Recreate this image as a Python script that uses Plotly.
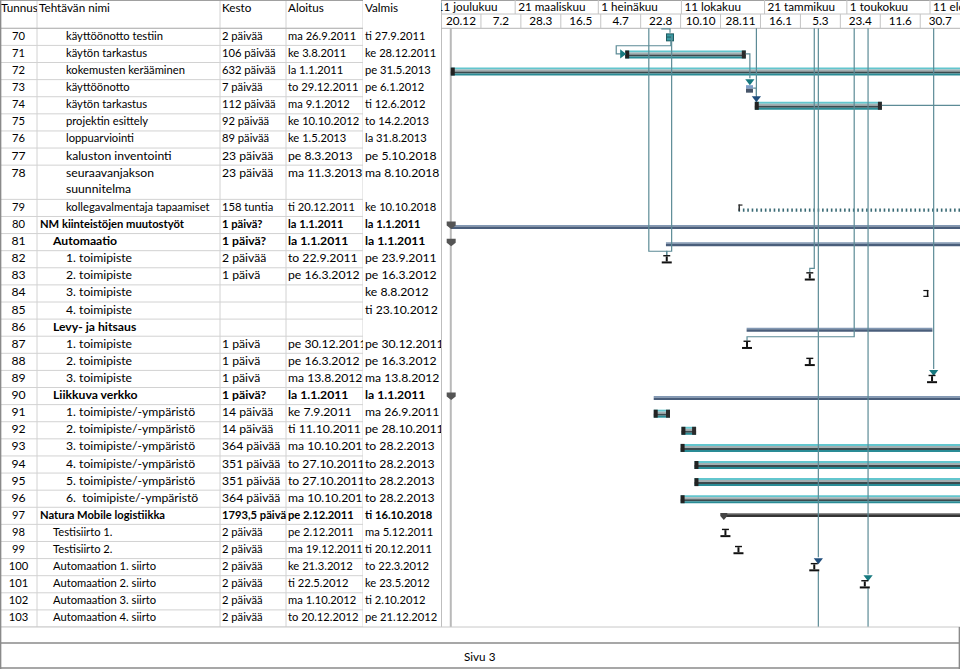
import plotly.graph_objects as go
from datetime import datetime, timedelta

# ---------------- data ----------------
task_ids = list(range(70, 104))
task_names = [
    "käyttöönotto testiin", "käytön tarkastus", "kokemusten kerääminen", "käyttöönotto",
    "käytön tarkastus", "projektin esittely", "loppuarviointi", "kaluston inventointi",
    "seuraavanjakson\nsuunnitelma", "kollegavalmentaja tapaamiset",
    "NM kiinteistöjen muutostyöt", "Automaatio", "1. toimipiste", "2. toimipiste",
    "3. toimipiste", "4. toimipiste", "Levy- ja hitsaus", "1. toimipiste", "2. toimipiste",
    "3. toimipiste", "Liikkuva verkko", "1. toimipiste/-ympäristö", "2. toimipiste/-ympäristö",
    "3. toimipiste/-ympäristö", "4. toimipiste/-ympäristö", "5. toimipiste/-ympäristö",
    "6.  toimipiste/-ympäristö", "Natura Mobile logistiikka", "Testisiirto 1.", "Testisiirto 2.",
    "Automaation 1. siirto", "Automaation 2. siirto", "Automaation 3. siirto", "Automaation 4. siirto",
]
outline_levels = [3] * 10 + [1, 2, 3, 3, 3, 3, 2, 3, 3, 3, 2, 3, 3, 3, 3, 3, 3, 1, 2, 2, 2, 2, 2, 2]
durations = [
    "2 päivää", "106 päivää", "632 päivää", "7 päivää", "112 päivää", "92 päivää", "89 päivää",
    "23 päivää", "23 päivää", "158 tuntia", "1 päivä?", "1 päivä?", "2 päivää", "1 päivä", "", "",
    "", "1 päivä", "1 päivä", "1 päivä", "1 päivä?", "14 päivää", "14 päivää", "364 päivää",
    "351 päivää", "351 päivää", "364 päivää", "1793,5 päivää", "2 päivää", "2 päivää", "2 päivää",
    "2 päivää", "2 päivää", "2 päivää",
]
starts = [
    "ma 26.9.2011", "ke 3.8.2011", "la 1.1.2011", "to 29.12.2011", "ma 9.1.2012", "ke 10.10.2012",
    "ke 1.5.2013", "pe 8.3.2013", "ma 11.3.2013", "ti 20.12.2011", "la 1.1.2011", "la 1.1.2011",
    "to 22.9.2011", "pe 16.3.2012", "", "", "", "pe 30.12.2011", "pe 16.3.2012", "ma 13.8.2012",
    "la 1.1.2011", "ke 7.9.2011", "ti 11.10.2011", "ma 10.10.2011", "to 27.10.2011", "to 27.10.2011",
    "ma 10.10.2011", "pe 2.12.2011", "pe 2.12.2011", "ma 19.12.2011", "ke 21.3.2012", "ti 22.5.2012",
    "ma 1.10.2012", "to 20.12.2012",
]
finishes = [
    "ti 27.9.2011", "ke 28.12.2011", "pe 31.5.2013", "pe 6.1.2012", "ti 12.6.2012", "to 14.2.2013",
    "la 31.8.2013", "pe 5.10.2018", "ma 8.10.2018", "ke 10.10.2018", "la 1.1.2011", "la 1.1.2011",
    "pe 23.9.2011", "pe 16.3.2012", "ke 8.8.2012", "ti 23.10.2012", "", "pe 30.12.2011",
    "pe 16.3.2012", "ma 13.8.2012", "la 1.1.2011", "ma 26.9.2011", "pe 28.10.2011", "to 28.2.2013",
    "to 28.2.2013", "to 28.2.2013", "to 28.2.2013", "ti 16.10.2018", "ma 5.12.2011", "ti 20.12.2011",
    "to 22.3.2012", "ke 23.5.2012", "ti 2.10.2012", "pe 21.12.2012",
]
# how each task is drawn in the gantt part
gantt_kinds = [
    "box_teal", "bar", "bar", "box_blue", "bar", "bar", "bar", "bar", "bar", "recurring",
    "summary", "summary", "manual", "manual", "finish_only", "finish_only", "summary", "manual",
    "manual", "manual", "summary", "bar", "bar", "bar", "bar", "bar", "bar", "summary_dark",
    "manual", "manual", "manual", "manual", "manual", "manual",
]
large_font_rows = [77, 78] + list(range(81, 97))

# dependency links: (from task | "top", to task | "bottom" | "right", date of vertical run, arrow colour)
links = [
    ("top", 70, "2011-09-17", None),
    (70, 71, "2011-07-23", "teal"),
    (70, 82, "2011-09-29", None),
    ("top", 82, "2011-09-01", None),
    (71, 73, "2012-01-03", "teal"),
    (73, 74, "2012-01-11", "navy"),
    ("top", 74, "2012-01-11", None),
    (74, "right", None, None),
    ("top", 83, "2012-03-22", None),
    ("top", 100, "2012-03-27", "navy"),
    (100, "bottom", "2012-03-27", None),
    ("top", 87, "2012-05-10", None),
    ("top", 101, "2012-05-27", "teal"),
    (101, "bottom", "2012-05-27", None),
    ("top", 89, "2012-08-15 12:00", "teal"),
]

project_start = "2011-01-01"

upper_tier_dates = ["2010-12-11", "2011-03-21", "2011-07-01", "2011-10-11", "2012-01-21",
                    "2012-05-01", "2012-08-11"]
upper_tier_labels = ["11 joulukuu", "21 maaliskuu", "1 heinäkuu", "11 lokakuu", "21 tammikuu",
                     "1 toukokuu", "11 elokuu"]
lower_tier_dates = ["2010-12-20", "2011-02-07", "2011-03-28", "2011-05-16", "2011-07-04",
                    "2011-08-22", "2011-10-10", "2011-11-28", "2012-01-16", "2012-03-05",
                    "2012-04-23", "2012-06-11", "2012-07-30"]
lower_tier_labels = ["20.12", "7.2", "28.3", "16.5", "4.7", "22.8", "10.10", "28.11", "16.1",
                     "5.3", "23.4", "11.6", "30.7"]
lower_tier_days = 49

column_titles = ["Tunnus", "Tehtävän nimi", "Kesto", "Aloitus", "Valmis"]
footer_text = "Sivu 3"

# ---------------- layout constants ----------------
W, H = 960, 669
HEADER_PX = 28.3
ROW_PX = 17.106
TABLE_RIGHT_PX = 441
COL_BOUNDS = [(0, 37), (37, 220), (220, 286), (286, 363), (363, 441)]
GANTT_LEFT_PX = 440
PX_PER_DAY = 0.815
ORIGIN_DATE = datetime(2010, 12, 20)
ORIGIN_PX = 441
FONT = "Lato"
FS_SMALL, FS_LARGE, FS_HEAD = 11.2, 12.2, 11.7
GRID = "#d2d2d2"
FRAME = "#8a8a8a"
LINK = "#5c8b96"
ARROW = {"teal": "#17797f", "navy": "#1f4d7c"}


def py(p):
    """absolute pixel row (from top) -> y units (rows)"""
    return (p - HEADER_PX) / ROW_PX


def pxd(p):
    return timedelta(days=p / PX_PER_DAY)


def dt(s):
    return datetime.fromisoformat(s)


def parse_fi(s):
    if not s:
        return None
    dd, mm, yy = s.split()[-1].split(".")
    return datetime(int(yy), int(mm), int(dd))


X0 = ORIGIN_DATE - pxd(ORIGIN_PX - GANTT_LEFT_PX)
X1 = ORIGIN_DATE + pxd(W - ORIGIN_PX)
Y_TOP = py(0)
Y_BOTTOM = py(H)
PXY = 1 / ROW_PX  # one pixel in y units

# row slots
slot_top = []
s = 0
for nm in task_names:
    slot_top.append(s)
    s += 2 if "\n" in nm else 1
TOTAL_SLOTS = s
idx = {tid: i for i, tid in enumerate(task_ids)}
row_y = [slot_top[i] + 0.5 for i in range(len(task_ids))]
start_dt = [parse_fi(v) for v in starts]
finish_dt = [parse_fi(v) for v in finishes]
is_summary = [i + 1 < len(outline_levels) and outline_levels[i + 1] > outline_levels[i]
              for i in range(len(outline_levels))]

fig = go.Figure()
shapes = []


def rect_px(xa, x0p, x1p, ya, top, bottom, color, layer="below"):
    shapes.append(dict(type="rect", xref="x", yref="y", xsizemode="pixel", ysizemode="pixel",
                       xanchor=xa, yanchor=ya, x0=x0p, x1=x1p, y0=-top, y1=-bottom,
                       fillcolor=color, line=dict(width=0), layer=layer))


def band(xa, xb, ya, top, bottom, color, layer="below"):
    shapes.append(dict(type="rect", xref="x", yref="y", ysizemode="pixel", yanchor=ya,
                       x0=xa, x1=xb, y0=-top, y1=-bottom, fillcolor=color,
                       line=dict(width=0), layer=layer))


def path_px(xa, ya, path, color, layer="above"):
    shapes.append(dict(type="path", xref="x", yref="y", xsizemode="pixel", ysizemode="pixel",
                       xanchor=xa, yanchor=ya, path=path, fillcolor=color,
                       line=dict(width=0), layer=layer))


def hline_paper(x0p, x1p, yv, color, width=1, layer="below"):
    shapes.append(dict(type="line", xref="paper", yref="y", x0=x0p / W, x1=x1p / W, y0=yv, y1=yv,
                       line=dict(color=color, width=width), layer=layer))


def vline_paper(xp, ya, yb, color, width=1, layer="below"):
    shapes.append(dict(type="line", xref="paper", yref="y", x0=xp / W, x1=xp / W, y0=ya, y1=yb,
                       line=dict(color=color, width=width), layer=layer))


# ---------------- table grid ----------------
for b in slot_top + [TOTAL_SLOTS]:
    hline_paper(0, TABLE_RIGHT_PX, b, GRID)
for c0, c1 in COL_BOUNDS[1:]:
    vline_paper(c0, Y_TOP, TOTAL_SLOTS, GRID)
vline_paper(TABLE_RIGHT_PX, Y_TOP, TOTAL_SLOTS, "#a8a8a8", 1.5)
hline_paper(0, W, 0, "#b4b4b4")
hline_paper(TABLE_RIGHT_PX, W, py(14), "#c4c4c4")
hline_paper(0, W, py(0.5), "#a0a0a0")

# project start line
shapes.append(dict(type="line", xref="x", yref="y", x0=project_start, x1=project_start,
                   y0=0, y1=TOTAL_SLOTS, line=dict(color="#b9b9b9", width=2), layer="below"))

# timescale separators
tx, ty = [], []
for d in upper_tier_dates:
    tx += [d, d, None]
    ty += [Y_TOP, py(14), None]
for d in lower_tier_dates:
    tx += [d, d, None]
    ty += [py(14), 0, None]
fig.add_trace(go.Scatter(x=tx, y=ty, mode="lines", line=dict(color="#c4c4c4", width=1),
                         xaxis="x", yaxis="y", hoverinfo="skip"))

# timescale labels
fig.add_trace(go.Scatter(
    x=[dt(d) + pxd(3) for d in upper_tier_dates], y=[py(7.6)] * len(upper_tier_dates),
    text=upper_tier_labels, mode="text", textposition="middle right", cliponaxis=True,
    textfont=dict(family=FONT, size=FS_HEAD, color="#000"), xaxis="x", yaxis="y", hoverinfo="skip"))
fig.add_trace(go.Scatter(
    x=[dt(d) + timedelta(days=lower_tier_days / 2) for d in lower_tier_dates],
    y=[py(21.6)] * len(lower_tier_dates), text=lower_tier_labels, mode="text",
    textposition="middle center", cliponaxis=True,
    textfont=dict(family=FONT, size=FS_HEAD, color="#000"), xaxis="x", yaxis="y", hoverinfo="skip"))

# ---------------- table text ----------------
head_y = py(9.5)
sizes = [FS_LARGE if t in large_font_rows else FS_SMALL for t in task_ids]
first_line_y = row_y
name_y = [slot_top[i] + (task_names[i].count("\n") + 1) / 2 for i in range(len(task_ids))]


def fmt(txt, i):
    txt = txt.replace("  ", " \u00a0").replace("\n", "<br>")
    return f"<b>{txt}</b>" if (is_summary[i] and txt) else txt


col_specs = [
    ("x2", [18.5] * len(task_ids), [str(t) for t in task_ids], first_line_y, "middle center", 1),
    ("x3", [3 + (lv - 1) * 13 for lv in outline_levels],
     [fmt(n, i) for i, n in enumerate(task_names)], name_y, "middle right", 2),
    ("x4", [2] * len(task_ids), [fmt(v, i) for i, v in enumerate(durations)], first_line_y, "middle right", 2),
    ("x5", [2] * len(task_ids), [fmt(v, i) for i, v in enumerate(starts)], first_line_y, "middle right", 2),
    ("x6", [2] * len(task_ids), [fmt(v, i) for i, v in enumerate(finishes)], first_line_y, "middle right", 2),
]
for k, (xa, xs, txts, ys, pos, hx) in enumerate(col_specs):
    fig.add_trace(go.Scatter(x=xs, y=ys, text=txts, mode="text", textposition=pos, cliponaxis=True,
                             textfont=dict(family=FONT, size=sizes, color="#000"),
                             xaxis=xa, yaxis="y", hoverinfo="skip"))
    fig.add_trace(go.Scatter(x=[hx], y=[head_y], text=[column_titles[k]], mode="text",
                             textposition="middle right", cliponaxis=True,
                             textfont=dict(family=FONT, size=FS_HEAD, color="#000"),
                             xaxis=xa, yaxis="y", hoverinfo="skip"))

# ---------------- gantt marks ----------------
def mark_x(i):
    k = gantt_kinds[i]
    st, fi = start_dt[i], finish_dt[i]
    if k in ("manual", "box_teal", "box_blue"):
        return st + (fi + timedelta(days=1) - st) / 2
    return st


def descendants(i):
    out = []
    j = i + 1
    while j < len(outline_levels) and outline_levels[j] > outline_levels[i]:
        out.append(j)
        j += 1
    return out


for i, tid in enumerate(task_ids):
    k = gantt_kinds[i]
    y = row_y[i]
    st, fi = start_dt[i], finish_dt[i]
    end = fi + timedelta(days=1) if fi else None
    if st is not None and st > X1:
        continue
    if k == "bar":
        for top, bot, col in [(-3.5, -1.5, "#62c6ce"), (-1.5, 0.5, "#a3aeb1"),
                              (0.5, 2.5, "#3b4a4e"), (2.5, 4.5, "#2a8c96")]:
            band(st, end, y, top, bot, col)
        rect_px(st, 0, 4, y, -3.5, 4.5, "#222222")
        rect_px(end, -4, 0, y, -3.5, 4.5, "#2b2b2b")
    elif k == "box_teal":
        m = mark_x(i)
        rect_px(m, -4, 4, y, -3.5, 4.5, "#1f5c62")
        rect_px(m, -3, 3, y, -2.5, 3.5, "#3a9aa2")
        rect_px(m, -3, 1, y, -0.3, 0.7, "#1f5c62")
    elif k == "box_blue":
        m = mark_x(i)
        rect_px(m, -3.5, 3.5, y, -3, 0.5, "#7d9dc6")
        rect_px(m, -3.5, 3.5, y, 0.5, 4.5, "#47566a")
    elif k == "manual":
        m = mark_x(i)
        rect_px(m, -3.5, 3.5, y, -4.2, -2.8, "#111111", "above")
        rect_px(m, -1, 1, y, -2.8, 2.2, "#111111", "above")
        rect_px(m, -5, 5, y, 2.2, 4.2, "#111111", "above")
    elif k == "finish_only":
        if end > X1:
            continue
        rect_px(end, -1.5, 0, y, -3.5, 3.5, "#111111", "above")
        rect_px(end, -5, 0, y, -3.5, -2.3, "#111111", "above")
        rect_px(end, -5, 0, y, 2.3, 3.5, "#111111", "above")
    elif k == "recurring":
        shapes.append(dict(type="line", xref="x", yref="y", ysizemode="pixel", yanchor=y,
                           x0=st, x1=end, y0=-2.2, y1=-2.2,
                           line=dict(color="#3a6a75", width=3.2, dash="1.6px,2.8px"), layer="below"))
        rect_px(st, 0, 1.5, y, -3.5, 3, "#333333", "above")
        rect_px(st, 0, 4, y, -3.5, -2.2, "#333333", "above")
    elif k == "summary":
        ds = descendants(i)
        ss = [start_dt[j] or finish_dt[j] for j in ds if (start_dt[j] or finish_dt[j])]
        ee = [finish_dt[j] for j in ds if finish_dt[j]]
        a, b = min(ss), max(ee) + timedelta(days=1)
        band(a, b, y, 0.0, 1.6, "#8298b3")
        band(a, b, y, 1.6, 4.0, "#4a5e7b")
        if st is not None:
            path_px(mark_x(i) + timedelta(days=0.5), y,
                    "M -4.5,3.5 L 4.5,3.5 L 4.5,-0.5 L 0,-4 L -4.5,-0.5 Z", "#555555")
    elif k == "summary_dark":
        band(st, end, y, -2.6, -1.6, "#6a6a6a")
        band(st, end, y, -1.6, 1.2, "#343434")
        path_px(st, y, "M -3.5,2.8 L 3.5,2.8 L 3.5,-0.3 L 0,-4.2 L -3.5,-0.3 Z", "#444444")

# ---------------- dependency links ----------------
lx, ly = [], []
arrow_pts = {"teal": ([], []), "navy": ([], [])}
arrow_right = ([], [], [])
FAR = X1 + timedelta(days=60)
for frm, to, run, arrow in links:
    xd = dt(run) if run else None
    if frm == "top":
        y_from = 0
        pf = None
    else:
        fi_ = idx[frm]
        y_from = row_y[fi_]
        pf = finish_dt[fi_] + timedelta(days=1)
    if to == "right":
        lx += [pf, FAR, None]
        ly += [y_from, y_from, None]
        continue
    if to == "bottom":
        lx += [xd, xd, None]
        ly += [y_from + 4 * PXY, TOTAL_SLOTS, None]
        continue
    si = idx[to]
    ys = row_y[si]
    sx = mark_x(si)
    if pf is not None and xd < start_dt[si]:
        # loop back: leave under predecessor, run left, enter successor from the left
        entry = start_dt[si] - pxd(3)
        lx += [pf, pf, xd, xd, entry, None]
        ly += [y_from + 4 * PXY, y_from + 0.52, y_from + 0.52, ys, ys, None]
        arrow_right[0].append(entry)
        arrow_right[1].append(ys)
        arrow_right[2].append(ARROW[arrow])
        continue
    pts_x, pts_y = [], []
    if pf is not None:
        if xd > pf:
            pts_x += [pf]
            pts_y += [y_from]
        pts_x += [xd]
        pts_y += [y_from if xd > pf else y_from + 4 * PXY]
    else:
        pts_x += [xd]
        pts_y += [y_from]
    if arrow:
        pts_x += [xd]
        pts_y += [ys - 10 * PXY]
        arrow_pts[arrow][0].append(xd)
        arrow_pts[arrow][1].append(ys - 7 * PXY)
    elif abs((xd - sx).total_seconds()) / 86400 * PX_PER_DAY > 3:
        pts_x += [xd, sx, sx]
        pts_y += [ys - 8 * PXY, ys - 8 * PXY, ys - 4 * PXY]
    else:
        pts_x += [xd]
        pts_y += [ys - 4 * PXY]
    lx += pts_x + [None]
    ly += pts_y + [None]

fig.add_trace(go.Scatter(x=lx, y=ly, mode="lines", line=dict(color=LINK, width=1.2),
                         xaxis="x", yaxis="y", hoverinfo="skip"))
for name, (ax, ay) in arrow_pts.items():
    if ax:
        fig.add_trace(go.Scatter(x=ax, y=ay, mode="markers", xaxis="x", yaxis="y",
                                 marker=dict(symbol="triangle-down", size=8, color=ARROW[name],
                                             line=dict(width=0)), hoverinfo="skip"))
if arrow_right[0]:
    fig.add_trace(go.Scatter(x=arrow_right[0], y=arrow_right[1], mode="markers", xaxis="x", yaxis="y",
                             marker=dict(symbol="triangle-right", size=8, color=arrow_right[2],
                                         line=dict(width=0)), hoverinfo="skip"))

# ---------------- footer frame (drawn on top) ----------------
shapes.append(dict(type="rect", xref="paper", yref="y", x0=0, x1=1, y0=TOTAL_SLOTS, y1=Y_BOTTOM,
                   fillcolor="white", line=dict(width=0), layer="above"))
hline_paper(0, W, TOTAL_SLOTS, "#c8c8c8", 1, "above")
hline_paper(0, W, py(643), FRAME, 1.5, "above")
hline_paper(0, W, py(668), FRAME, 1.5, "above")
vline_paper(0.6, Y_TOP, Y_BOTTOM, FRAME, 1.5, "above")
vline_paper(959.4, TOTAL_SLOTS, Y_BOTTOM, FRAME, 1.5, "above")

# ---------------- layout ----------------
axes = dict(
    xaxis=dict(type="date", domain=[GANTT_LEFT_PX / W, 1], range=[X0, X1], visible=False,
               anchor="y", fixedrange=True),
    yaxis=dict(range=[Y_BOTTOM, Y_TOP], domain=[0, 1], visible=False, anchor="x", fixedrange=True),
)
for k, (c0, c1) in enumerate(COL_BOUNDS):
    axes[f"xaxis{k + 2}"] = dict(domain=[c0 / W, c1 / W], range=[0, c1 - c0], visible=False,
                                 anchor="y", fixedrange=True)

fig.update_layout(
    width=W, height=H, autosize=False, margin=dict(l=0, r=0, t=0, b=0, pad=0),
    paper_bgcolor="white", plot_bgcolor="white", showlegend=False, hovermode=False,
    shapes=shapes,
    annotations=[dict(text=footer_text, xref="paper", yref="y", x=0.5, y=py(656), showarrow=False,
                      font=dict(family=FONT, size=FS_HEAD, color="#000"))],
    **axes,
)
fig.write_html("out.html", config={"displayModeBar": False},
               post_script="document.body.style.margin='0px';document.body.style.overflow='hidden';")
